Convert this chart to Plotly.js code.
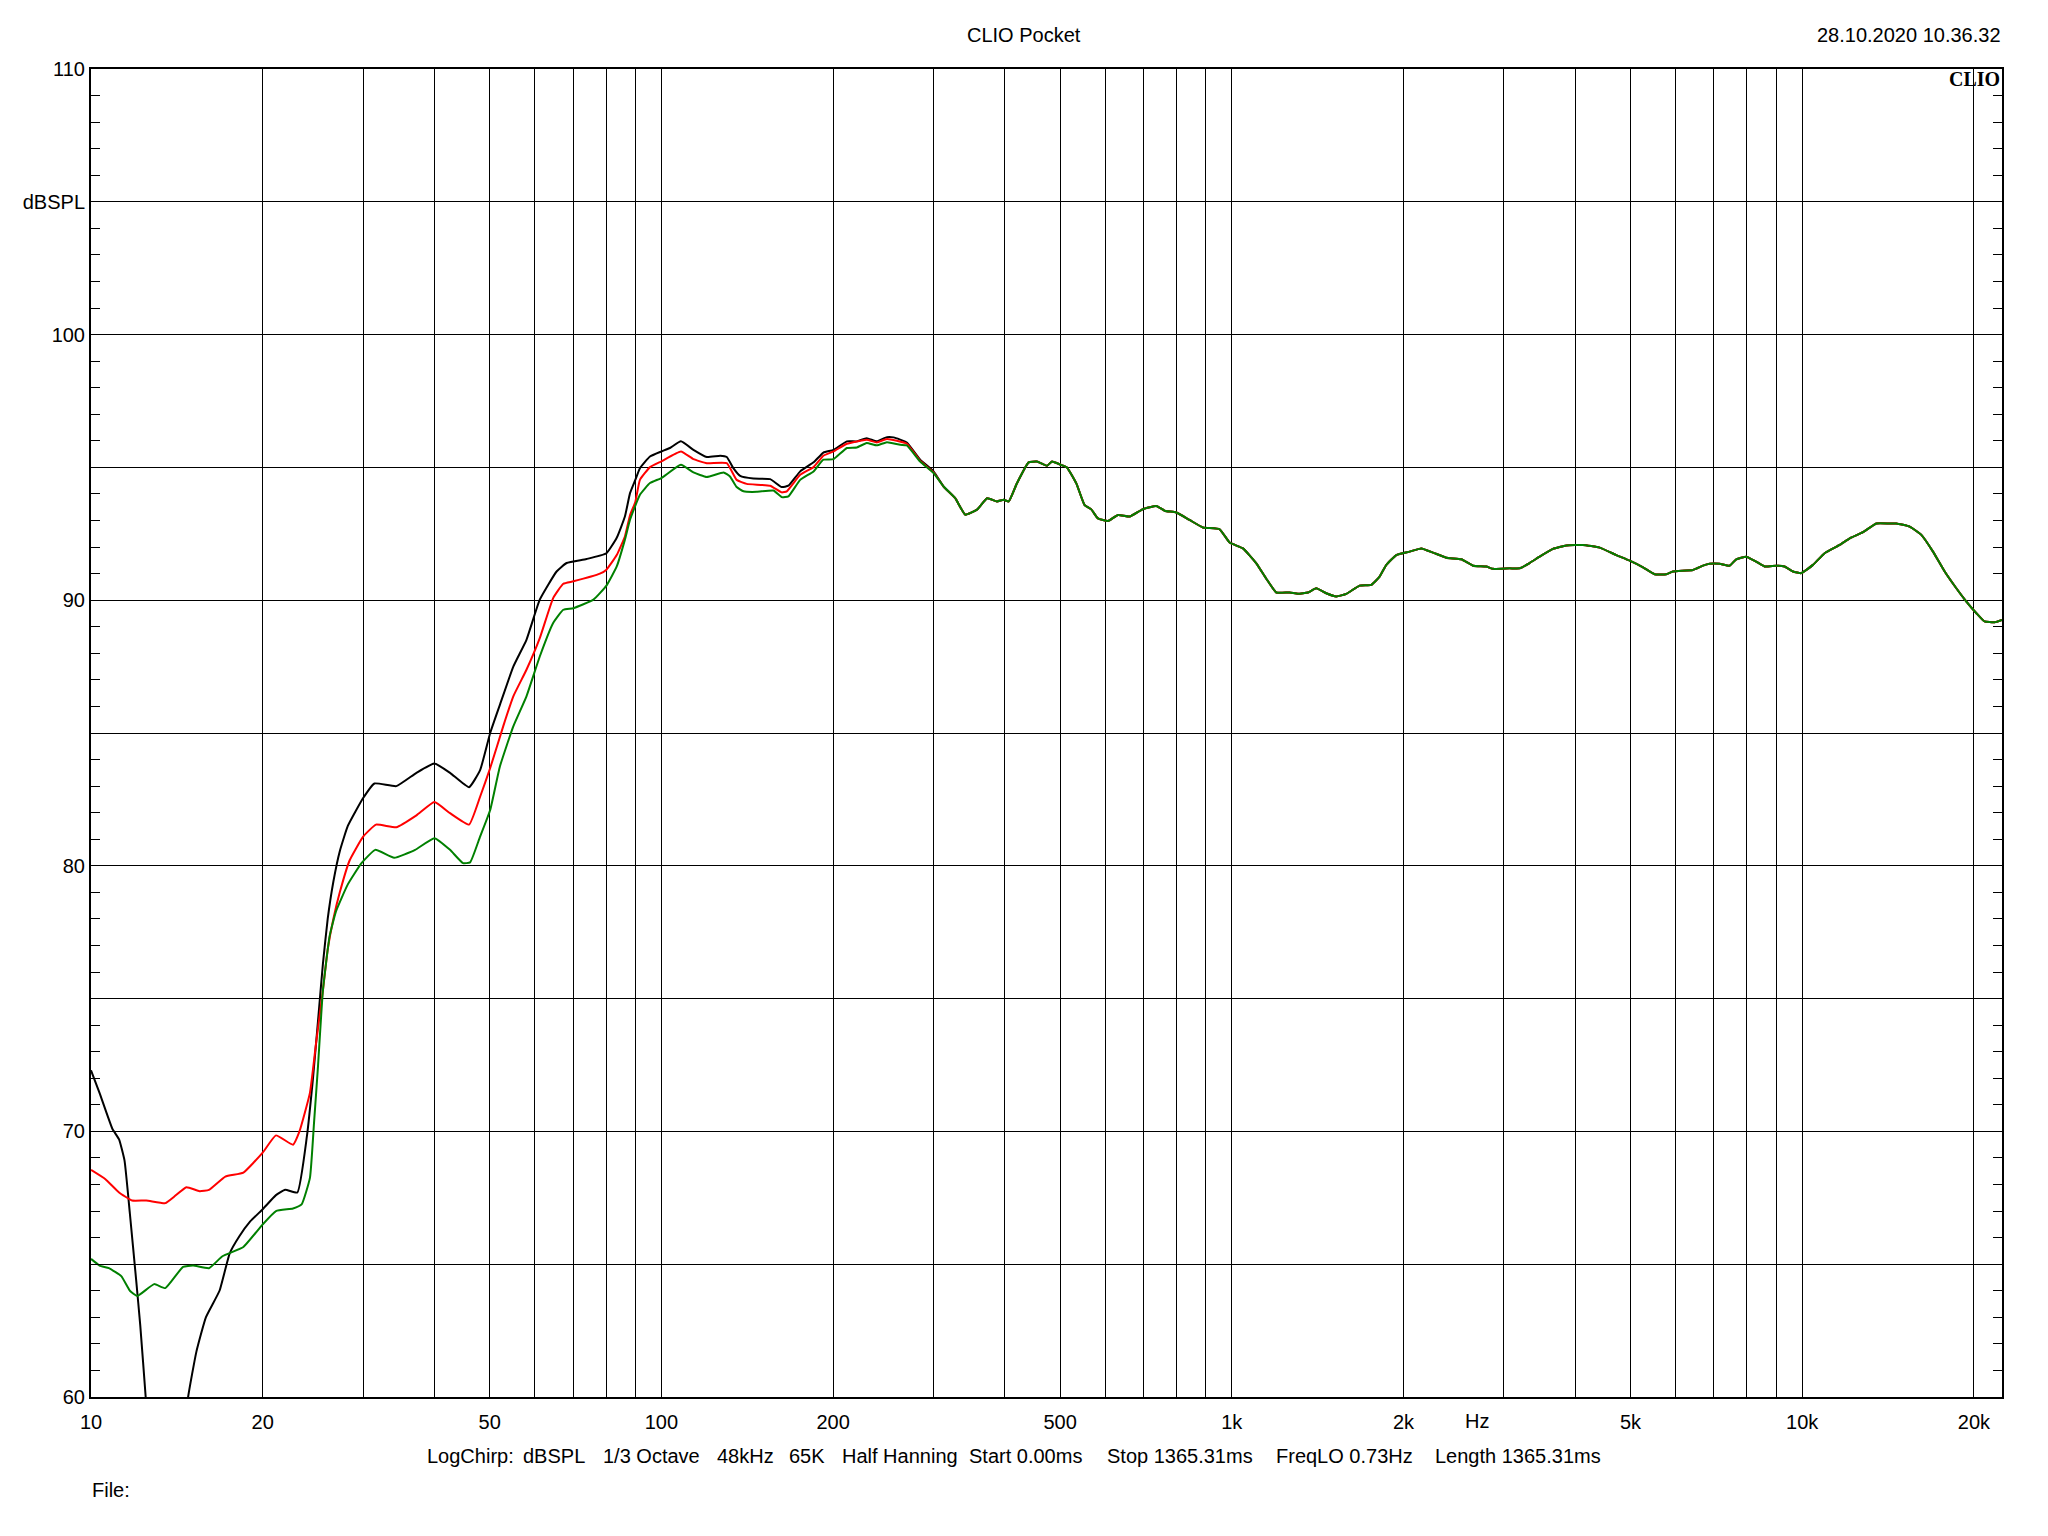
<!DOCTYPE html>
<html>
<head>
<meta charset="utf-8">
<script src="https://cdn.plot.ly/plotly-3.0.1.min.js"></script>
<style>
  html, body { margin: 0; padding: 0; background: #ffffff; }
  #chart { width: 2048px; height: 1536px; }
</style>
</head>
<body>
<div id="chart"></div>
<script>
// ---------------- DATA ----------------
// Black curve, below 300 Hz (Hz / dBSPL)
const blackLowFreq = [10, 10.35, 10.9, 11.2, 11.45, 11.7, 12.0, 12.2, 12.47, 12.75, 13.5, 14.3, 14.8, 15.3, 15.9, 16.8, 17.5, 18.2, 19.0, 20.0, 21.1, 21.9, 23.0, 23.9, 24.5, 25.0, 25.5, 26.0, 26.6, 27.3, 28.2, 30.0, 31.4, 34.3, 37.2, 40.0, 42.6, 46.0, 48.1, 50.1, 52.1, 55.0, 58.0, 61.2, 65.5, 68.2, 73.9, 80.1, 83.5, 86.3, 88.1, 90.0, 91.7, 95.5, 100, 103.5, 108.2, 113.8, 120.1, 126.8, 130.2, 133.7, 137.4, 145, 155.1, 162.5, 167, 175.1, 184.8, 192.3, 200.3, 211.4, 220.1, 229, 238.6, 248.5, 255.3, 269.3, 284.2, 300];
const blackLowDb   = [72.3, 71.45, 70.1, 69.7, 68.9, 66.9, 64.4, 62.7, 60.0, 57.0, 54.0, 57.0, 60.0, 61.7, 63.0, 64.0, 65.4, 66.05, 66.6, 67.07, 67.6, 67.8, 67.7, 69.8, 72.0, 74.15, 76.3, 78.0, 79.4, 80.55, 81.5, 82.55, 83.1, 83.0, 83.5, 83.85, 83.5, 82.96, 83.6, 85.0, 86.06, 87.5, 88.51, 90.02, 91.08, 91.4, 91.55, 91.77, 92.35, 93.15, 94.03, 94.53, 94.97, 95.41, 95.6, 95.73, 95.98, 95.66, 95.39, 95.44, 95.39, 94.97, 94.68, 94.58, 94.56, 94.26, 94.31, 94.85, 95.19, 95.56, 95.66, 95.98, 95.98, 96.1, 95.98, 96.14, 96.13, 95.94, 95.29, 94.85];

// Red curve, below 300 Hz
const redLowFreq = [10, 10.6, 11.2, 11.8, 12.5, 13.5, 14.0, 14.7, 15.5, 16.1, 17.2, 18.5, 20.0, 21.1, 22.6, 23.2, 24.2, 24.8, 25.5, 26.0, 26.6, 27.3, 28.4, 30.0, 31.6, 34.3, 37.2, 40, 42.6, 46, 48.1, 50.1, 52.8, 55, 58, 61.2, 64.6, 67.3, 70.1, 78.0, 80.1, 83.5, 86.3, 88.1, 90, 91.7, 95.5, 100, 108.2, 113.8, 120.1, 130.2, 135.5, 141.1, 155.1, 162.5, 165.9, 175.1, 184.8, 192.3, 200.3, 211.4, 229, 238.6, 248.5, 269.3, 284.2, 300];
const redLowDb   = [68.55, 68.2, 67.7, 67.4, 67.4, 67.3, 67.55, 67.9, 67.75, 67.8, 68.3, 68.45, 69.2, 69.85, 69.5, 70.0, 71.45, 73.3, 75.3, 76.85, 78.0, 79.0, 80.2, 81.1, 81.55, 81.45, 81.9, 82.4, 81.98, 81.55, 82.6, 83.68, 85.25, 86.38, 87.38, 88.57, 90.08, 90.62, 90.71, 91.0, 91.15, 91.7, 92.4, 93.2, 93.7, 94.53, 95.01, 95.23, 95.6, 95.31, 95.16, 95.16, 94.53, 94.38, 94.31, 94.06, 94.1, 94.72, 95.01, 95.44, 95.6, 95.89, 96.04, 95.94, 96.07, 95.89, 95.25, 94.81];

// Green curve, below 300 Hz
const greenLowFreq = [10, 10.35, 10.75, 11.3, 11.7, 12.05, 12.9, 13.5, 14.5, 15.1, 16.1, 17.0, 18.5, 20.0, 21.1, 22.6, 23.4, 24.2, 24.6, 25.0, 25.5, 26.2, 26.9, 28.2, 29.8, 31.5, 34.0, 37.0, 40, 42.6, 44.9, 46.2, 48.1, 50.1, 52.1, 55, 58, 61.2, 64.6, 67.3, 70.1, 76.0, 80.1, 83.5, 86.3, 88.1, 91.7, 95.5, 100, 108.2, 113.8, 120.1, 128.5, 131.9, 135.5, 139.3, 146.9, 157.2, 162.5, 167, 175.1, 184.8, 192.3, 200.3, 211.4, 220.1, 229, 238.6, 248.5, 262.2, 269.3, 284.2, 300];
const greenLowDb   = [65.2, 64.95, 64.85, 64.55, 64.0, 63.8, 64.25, 64.1, 64.9, 64.95, 64.85, 65.3, 65.65, 66.5, 67.0, 67.1, 67.25, 68.25, 70.3, 72.45, 75.3, 77.35, 78.3, 79.3, 80.1, 80.6, 80.3, 80.6, 81.04, 80.6, 80.1, 80.13, 81.1, 82.1, 83.74, 85.25, 86.38, 87.88, 89.14, 89.64, 89.7, 90.02, 90.55, 91.27, 92.28, 93.03, 93.97, 94.41, 94.6, 95.1, 94.81, 94.64, 94.81, 94.66, 94.26, 94.1, 94.08, 94.13, 93.88, 93.91, 94.53, 94.85, 95.29, 95.31, 95.73, 95.75, 95.92, 95.83, 95.95, 95.85, 95.83, 95.22, 94.79];

// Above 300 Hz the three curves coincide
const commonFreq = [312.4, 327.4, 341, 357.5, 372.4, 387.5, 398, 406.4, 420.2, 440.4, 455.4, 474.2, 483.9, 501, 514, 533.8, 552, 567, 582.5, 606.7, 631.6, 662.2, 698.7, 737.4, 762.6, 799.3, 843.4, 890, 952, 991.3, 1046, 1104, 1150, 1197, 1263, 1306, 1360, 1406, 1464, 1525, 1588, 1675, 1756, 1816, 1866, 1943, 2050, 2149, 2253, 2377, 2526, 2648, 2793, 2870, 3069, 3197, 3327, 3465, 3656, 3858, 4127, 4414, 4721, 4983, 5259, 5511, 5777, 5934, 6433, 6699, 6881, 7164, 7459, 7662, 7980, 8308, 8590, 9005, 9311, 9634, 9963, 10443, 10947, 11632, 12113, 12783, 13487, 14235, 14623, 15430, 16175, 16953, 17773, 18628, 19400, 20200, 20870, 21740, 22400];
const commonDb   = [94.28, 93.84, 93.22, 93.41, 93.84, 93.72, 93.78, 93.72, 94.41, 95.19, 95.22, 95.06, 95.22, 95.1, 95.0, 94.4, 93.58, 93.42, 93.08, 92.98, 93.21, 93.15, 93.43, 93.55, 93.37, 93.3, 93.02, 92.74, 92.67, 92.17, 91.95, 91.39, 90.8, 90.29, 90.29, 90.24, 90.29, 90.45, 90.26, 90.14, 90.24, 90.55, 90.58, 90.89, 91.33, 91.7, 91.83, 91.95, 91.79, 91.6, 91.54, 91.3, 91.27, 91.18, 91.2, 91.2, 91.4, 91.64, 91.93, 92.06, 92.08, 91.98, 91.7, 91.49, 91.24, 90.98, 90.98, 91.08, 91.14, 91.3, 91.37, 91.37, 91.3, 91.54, 91.64, 91.45, 91.27, 91.3, 91.27, 91.08, 91.02, 91.33, 91.77, 92.08, 92.33, 92.56, 92.89, 92.89, 92.89, 92.77, 92.46, 91.83, 91.08, 90.45, 89.95, 89.51, 89.2, 89.17, 89.26];

// Axis ticks
const xGridFreqs = [10, 20, 30, 40, 50, 60, 70, 80, 90, 100, 200, 300, 400, 500, 600, 700, 800, 900, 1000, 2000, 3000, 4000, 5000, 6000, 7000, 8000, 9000, 10000, 20000];
const xLabels    = ["10", "20", "", "", "50", "", "", "", "", "100", "200", "", "", "500", "", "", "", "", "1k", "2k", "", "", "5k", "", "", "", "", "10k", "20k"];
const yGridVals  = [60, 65, 70, 75, 80, 85, 90, 95, 100, 105, 110];
const yLabels    = ["60", "", "70", "", "80", "", "90", "", "100", "dBSPL", "110"];

const titleText = "CLIO Pocket";
const dateText = "28.10.2020 10.36.32";
const infoItems = ["LogChirp:", "dBSPL", "1/3 Octave", "48kHz", "65K", "Half Hanning", "Start 0.00ms", "Stop 1365.31ms", "FreqLO 0.73Hz", "Length 1365.31ms"];
const infoX = [426, 522, 602, 716, 788, 841, 968, 1106, 1275, 1434];

// ---------------- LAYOUT ----------------
const W = 2048, H = 1536;
const L = 91, R = 2002, T = 69, B = 1397;
const px = (x) => (x - L) / (R - L);
const py = (y) => (B - y) / (B - T);
const FONT = "Arial, 'Liberation Sans', sans-serif";

function curve(lf, ld, color) {
  return {
    x: lf.concat(commonFreq),
    y: ld.concat(commonDb),
    type: "scatter",
    mode: "lines",
    line: { color: color, width: 2, shape: "spline", smoothing: 0.4 },
    hoverinfo: "skip",
    showlegend: false,
    cliponaxis: true
  };
}

const traces = [
  curve(blackLowFreq, blackLowDb, "#000000"),
  curve(redLowFreq, redLowDb, "#ff0000"),
  curve(greenLowFreq, greenLowDb, "#008000")
];

const annotations = [
  { text: titleText, x: px(1024), y: py(35), xanchor: "center", yanchor: "middle" },
  { text: dateText, x: px(2002), y: py(35), xanchor: "right", yanchor: "middle" },
  { text: "Hz", x: px(1477), y: py(1421), xanchor: "center", yanchor: "middle" },
  { text: "File:", x: px(91), y: py(1490), xanchor: "left", yanchor: "middle" },
  { text: "<b>CLIO</b>", x: px(2001), y: py(67), xanchor: "right", yanchor: "top",
    font: { family: "'Liberation Serif', 'Times New Roman', serif", size: 20, color: "#000" } }
].concat(infoItems.map((t, i) => ({ text: t, x: px(infoX[i]), y: py(1456), xanchor: "left", yanchor: "middle" })));

annotations.forEach(a => {
  a.xref = "paper"; a.yref = "paper"; a.showarrow = false;
  a.borderpad = 0;
  if (!a.font) a.font = { family: FONT, size: 20, color: "#000" };
});

const layout = {
  width: W, height: H,
  margin: { l: L, r: W - R, t: T, b: H - B, pad: 0 },
  paper_bgcolor: "#ffffff",
  plot_bgcolor: "#ffffff",
  showlegend: false,
  font: { family: FONT, size: 20, color: "#000" },
  xaxis: {
    type: "log",
    range: [1, Math.log10(22400)],
    tickmode: "array",
    tickvals: xGridFreqs,
    ticktext: xLabels,
    ticks: "",
    showgrid: true,
    gridcolor: "#000000",
    gridwidth: 1,
    showline: true,
    linecolor: "#000000",
    linewidth: 2,
    mirror: true,
    zeroline: false,
    tickfont: { family: FONT, size: 20, color: "#000" },
    ticklabelstandoff: 6,
    fixedrange: true
  },
  yaxis: {
    range: [60, 110],
    tickmode: "array",
    tickvals: yGridVals,
    ticktext: yLabels,
    ticks: "inside",
    ticklen: 9,
    tickwidth: 1,
    tickcolor: "#000",
    minor: { tickmode: "linear", tick0: 60, dtick: 1, ticks: "inside", ticklen: 9, tickwidth: 1, tickcolor: "#000", showgrid: false },
    showgrid: true,
    gridcolor: "#000000",
    gridwidth: 1,
    showline: true,
    linecolor: "#000000",
    linewidth: 2,
    mirror: "allticks",
    zeroline: false,
    tickfont: { family: FONT, size: 20, color: "#000" },
    ticklabelstandoff: 0,
    fixedrange: true
  },
  annotations: annotations
};

Plotly.newPlot("chart", traces, layout, { displayModeBar: false, staticPlot: true });
</script>
</body>
</html>
